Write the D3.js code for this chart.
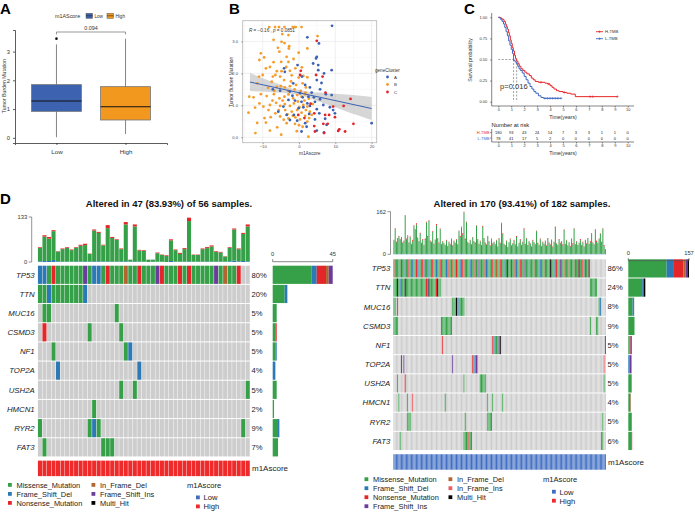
<!DOCTYPE html>
<html><head><meta charset="utf-8">
<script src="https://cdn.jsdelivr.net/npm/d3@7"></script>
<style>body{margin:0;background:#fff}svg{display:block;font-family:"Liberation Sans",Arial,Helvetica,sans-serif}</style>
</head><body>
<svg id="c" width="695" height="512"></svg>
<script>
// ================= DATA =================
// Panel A (boxplot)
const boxGroups=["Low","High"];
const boxMin=[0.02,0.13];
const boxQ1=[0.92,0.62];
const boxMedian=[1.28,1.08];
const boxQ3=[1.85,1.78];
const boxMax=[3.25,3.45];
const boxOutliers=[[3.45],[]];
const boxColors=["#3D63B0","#F2981F"];
const aPValue="0.094";
const aTicks=[0,1,2,3];

// Panel B (scatter)
const clusterNames=["A","B","C"];
const clusterColors=["#3B62B4","#F59C2B","#E52429"];
const pointsA=[[9.1,3.49],[2.3,3.13],[5.5,2.94],[4.9,2.52],[4.7,2.47],[3.9,2.31],[5.3,2.26],[9,2.1],[6.9,2],[5.3,2.1],[4.9,1.79],[-0.4,2.26],[-4.1,2.16],[-3.9,2.05],[0.8,1.9],[-1.6,1.69],[1.7,1.64],[3,1.56],[5.8,1.5],[7.4,1.35],[9,1.32],[-7.2,1.5],[-5.2,1.46],[-2.5,1.43],[0.3,1.38],[2.6,1.27],[4.1,1.25],[5.8,1.19],[-2.9,1.17],[-1.1,1.15],[0.7,1.11],[2.3,1.06],[4.4,1.11],[6.7,1.01],[-4.3,0.96],[-0.1,0.91],[1.2,0.94],[3,0.98],[4.9,0.88],[8.5,0.94],[-5.7,0.8],[-3.4,0.7],[-1.4,0.7],[2.8,0.73],[5.6,0.75],[9.4,0.85],[9.9,0.75],[-2.5,0.54],[-0.5,0.52],[1.7,0.44],[4.4,0.56],[7.2,0.58],[7.6,0.39],[2.1,0.33],[4.9,0.21],[6.9,0.15],[20,0.44],[0.7,0.18],[3.5,1.4],[1,1.25],[-1.8,1.3],[6.2,1.7]];
const pointsB=[[-8.2,3.45],[-6.6,3.45],[-5.5,3.45],[-4,3.45],[-1.7,3.45],[-1.3,3.45],[-0.9,3.45],[0.7,3.45],[-4.6,3.23],[-2.9,3.2],[-4.8,2.99],[5.1,3.17],[2.3,2.78],[-2.7,2.85],[-2.8,2.78],[-5.4,2.68],[-0.1,2.65],[-10.5,2.63],[-9.6,2.5],[-10.9,2.42],[-3.4,2.52],[-4.9,2.36],[-2.9,2.36],[-8,2.2],[-9.1,2.16],[-6.1,2.07],[-4.8,2.07],[-2.5,2.08],[-1,2.16],[0.8,2.19],[-10,1.95],[-7.2,1.9],[-5.2,1.9],[-4.1,1.79],[-2,1.94],[-0.1,1.87],[1.2,1.92],[2.3,1.88],[-11.5,1.69],[-7.5,1.74],[-6.1,1.58],[-5,1.6],[-3.9,1.56],[-2.5,1.6],[-0.8,1.64],[1,1.69],[1.9,1.56],[-13.7,1.27],[-8.9,1.29],[-6.9,1.35],[-5.4,1.22],[-4,1.27],[-2.9,1.34],[-1.6,1.22],[-0.5,1.32],[0.7,1.27],[1.7,1.35],[2.7,1.21],[-10.9,1.06],[-9.8,0.96],[-8,1.01],[-6.3,1.08],[-5.2,0.98],[-3.9,1.04],[-2.5,0.98],[-1.4,1.06],[0.1,0.94],[1.2,1.01],[2.3,0.96],[3.8,1.04],[-12.1,0.93],[-8.4,0.85],[-5.6,0.85],[-3.8,0.85],[-2,0.8],[-0.5,0.85],[0.7,0.77],[1.9,0.85],[3,0.8],[-13.9,0.77],[-7.8,0.63],[-5.2,0.65],[-2.9,0.59],[-1.7,0.67],[0.3,0.56],[1.7,0.67],[-9.1,0.46],[-6,0.31],[-3.4,0.44],[-1.1,0.42],[1,0.33],[2.3,0.49],[-12,0.13],[-4.9,0.08],[-8,0.21],[2.6,0.02],[-0.6,0.19],[-3,1.45],[-1.2,1.5],[0.5,1.45],[-6.8,1.45],[-8.5,1.55],[-10.5,1.35],[-4.5,1.15],[-7.3,1.15],[-0.3,1.12],[1.5,1.15],[-3.2,0.72],[-6.5,0.75],[-1,0.62],[2.8,0.6],[-7,2.35],[-6.5,1.95],[-3.5,2.2],[-1.5,2.45],[-11,1.9],[-9.5,0.6],[-4.2,0.55],[0,0.38],[3.5,0.7],[-2.2,1.75],[-5.8,2.8],[-7,3.05],[-4,2.95],[1.8,1.4],[-12.5,1.25],[-11.5,0.45]];
const pointsC=[[4.9,3.02],[0.5,2.08],[0.3,1.95],[4.7,1.95],[6.5,1.9],[7.3,1.4],[14.2,1.2],[12.3,0.98],[9.4,0.96],[8.3,0.7],[7.2,0.7],[9.9,0.63],[4.2,0.75],[-0.2,0.7],[6.7,0.42],[7.9,0.42],[4.2,0.35],[11.1,0.25],[10.8,0.2],[12.7,0.18],[15,0.42],[6.9,0.13],[4.4,0.18],[3.2,1.05],[1.5,0.6]];
const fitX=[-13.5,20];
const fitY=[1.73,0.9];
const bandX=[-13.5,-10,-6,-3,0,3,6,10,14,17,20];
const bandLo=[1.45,1.43,1.40,1.38,1.32,1.22,1.10,0.94,0.77,0.66,0.54];
const bandHi=[2.01,1.85,1.68,1.56,1.48,1.42,1.40,1.36,1.33,1.30,1.26];
const bXTicks=[-10,0,10,20];
const bYTicks=[0,1,2,3];

// Panel C (Kaplan-Meier)
const kmRedT=[0,0.15,0.25,0.35,0.45,0.55,0.62,0.7,0.78,0.85,0.93,1.0,1.08,1.16,1.25,1.33,1.42,1.52,1.62,1.75,1.9,2.05,2.2,2.4,2.55,2.7,2.85,3.1,3.6,3.8,4.0,4.15,4.3,4.5,4.7,5.0,5.3,5.6,5.95,9.2];
const kmRedS=[1,0.994,0.983,0.972,0.95,0.92,0.89,0.86,0.82,0.78,0.73,0.69,0.64,0.6,0.55,0.51,0.48,0.45,0.42,0.39,0.37,0.35,0.33,0.31,0.28,0.26,0.24,0.23,0.22,0.21,0.19,0.17,0.15,0.13,0.12,0.11,0.10,0.09,0.06,0.06];
const kmBlueT=[0,0.1,0.2,0.3,0.4,0.5,0.6,0.7,0.8,0.9,1.0,1.1,1.18,1.3,1.4,1.5,1.6,1.7,1.85,2.0,2.15,2.3,2.45,2.6,2.75,2.9,3.1,3.3,3.5,4.85];
const kmBlueS=[1,0.99,0.97,0.95,0.92,0.88,0.83,0.78,0.72,0.67,0.62,0.57,0.49,0.47,0.45,0.42,0.39,0.37,0.34,0.30,0.26,0.22,0.18,0.15,0.12,0.10,0.07,0.05,0.04,0.04];
const censorRedT=[3.3,3.9,5.1,7.1,7.3,9.2];
const censorBlueT=[3.6,3.8,4.0,4.2,4.4,4.6,4.85];
const medianT=[1.42,1.18];
const kmGroups=["H-TMB","L-TMB"];
const kmColors=["#E8282B","#3D68C4"];
const riskTimes=[0,1,2,3,4,5,6,7,8,9,10];
const riskHigh=[180,93,43,24,14,7,3,3,1,1,0];
const riskLow=[78,41,17,5,2,0,0,0,0,0,0];
const kmPValue="p=0.016";
const cYTicks=[0,0.25,0.5,0.75,1];

// Panel D (oncoplots)
const mutTypes=["M","F","N","D","I","J","H"];
const mutNames={M:"Missense_Mutation",F:"Frame_Shift_Del",N:"Nonsense_Mutation",D:"In_Frame_Del",I:"Frame_Shift_Ins",J:"In_Frame_Ins",H:"Multi_Hit"};
const mutColors={M:"#35A048",F:"#2B79B5",N:"#E3262A",D:"#B3652F",I:"#6A3D9A",J:"#EE5A5F",H:"#000000"};
const genes=["TP53","TTN","MUC16","CSMD3","NF1","TOP2A","USH2A","HMCN1","RYR2","FAT3"];
// left (High m1Ascore): 47 altered samples
const leftTitle="Altered in 47 (83.93%) of 56 samples.";
const leftPct=["80%","20%","5%","5%","5%","4%","5%","2%","9%","7%"];
const leftRows=[
 [[0,"FFMNMMMMMMIMFFMNMMMDMMNMMMINMMMNMNMMMMMIMDMMN"]],
 [[0,"MMFMMMMMMMF"]],
 [[1,"MM"],[17,"M"]],
 [[1,"N"],[11,"M"],[18,"M"]],
 [[3,"M"],[19,"MF"]],
 [[4,"F"],[22,"F"]],
 [[18,"M"],[21,"M"],[46,"M"]],
 [[12,"M"]],
 [[0,"M"],[11,"MFM"],[45,"M"]],
 [[1,"M"],[14,"MMM"]]
];
const leftTMB=[44,79,74,94,32,40,44,37,44,51,54,25,96,89,51,109,74,67,40,118,7,111,36,35,7,7,28,22,20,67,37,27,41,131,22,22,40,44,49,32,30,17,44,99,40,86,111];
const leftRed=[2,4,5,3,1,2,2,2,2,3,4,1,3,3,2,9,3,2,2,7,0,6,2,2,0,0,2,1,2,3,2,3,3,10,1,1,2,3,3,2,2,1,2,3,2,3,6];
const leftBlue=[2,3,3,6,2,1,1,1,2,1,2,1,2,2,1,2,1,1,2,2,1,2,1,1,0,1,1,1,0,3,1,1,1,2,1,1,1,2,1,1,1,1,2,4,2,3,2];
const leftTmbMax=133, leftBarMax=45;
// right (Low m1Ascore): 170 altered samples
const rightTitle="Altered in 170 (93.41%) of 182 samples.";
const rightPct=["86%","24%","8%","9%","5%","5%","5%","4%","5%","6%"];
const rightRows=[
 [[0,"MNMFMMNMFM"+"MFNMMFMMNM"+"FMMNMIMMFM"+"MNMMFMMNMM"+"MMFMNMMDMM"+"NMMFMNMNMM"+"MFMMNMMMIM"+"MMNMFFMMMN"+"MMDMMNMMFM"+"MHMMNMNMFM"+"MNMMIMMFMM"+"DMMNMFMFMM"+"MNMMMHMMFM"+"NMMIMMDMMN"+"MMFMMNMNHM"+"MNMIMDH"]],
 [[0,"MMMHMFMMMHMMMMMMMMMMMMMMMMNFHMMMMMNHMM"],[157,"MMMMMM"]],
 [[0,"MM"],[3,"N"],[47,"MMMHMFMMMM"],[164,"MF"]],
 [[0,"MMMM"],[38,"MMMMMMMMM"],[157,"M"],[162,"MM"]],
 [[39,"N"],[79,"NFMMMIH"],[169,"I"]],
 [[6,"I"],[8,"I"],[47,"I"],[63,"NFFIJ"],[168,"J"]],
 [[3,"M"],[9,"N"],[56,"M"],[69,"MMMMM"],[168,"M"]],
 [[4,"M"],[11,"M"],[15,"J"],[41,"M"],[75,"M"],[79,"M"],[87,"M"]],
 [[11,"MMM"],[57,"M"],[75,"MMMM"],[167,"M"]],
 [[5,"M"],[56,"MMMMNMM"],[166,"MM"]]
];
const rightTMB=[55,99,48,62,70,58,66,45,52,149,60,72,45,68,40,55,110,96,118,64,50,82,44,58,36,60,124,70,130,52,48,88,40,56,115,62,45,98,38,50,42,36,55,32,48,40,60,35,52,44,58,38,90,70,105,80,162,60,124,48,42,55,38,66,50,45,110,58,40,52,36,108,62,45,38,70,50,34,60,42,48,38,55,30,62,44,120,80,40,35,52,28,46,60,34,42,55,38,70,30,44,58,36,48,99,40,62,35,50,42,30,55,46,38,90,44,36,60,32,48,40,52,34,62,45,38,56,30,48,105,42,36,58,44,50,38,95,40,55,34,46,32,60,42,99,38,50,35,44,58,36,48,30,55,42,62,40,50,80,45,38,95,52,44,60,80,48,99,35,20];
const rightRed="2423323252"+"3423263252"+"2423273524"+"2342624232"+"2232323232"+"2324363622"+"2232262223"+"2423222242"+"2323232223"+"2313223242"+"2323542322"+"2323242323"+"2323232326"+"2232252322"+"2325232324"+"2323232432"+"2352324252";
const rightBlue="1211211213"+"1121212121"+"1211212131"+"2121121211"+"1121211212"+"1212131211"+"1211212121"+"1121121311"+"2112121121"+"1211212121"+"1121212112"+"1211212121"+"1121211213"+"1211211212"+"1121213121"+"1211212112"+"1212131211";
const rightTmbMax=162, rightBarMax=157;
const annoName="m1Ascore";
const annoLevels=["Low","High"];
const annoColors=["#3F6DC2","#EE2A2A"];

// ================= DRAW =================
const svg=d3.select("#c");
const DARK="#333";
function txt(g,x,y,s,size,opt={}){
  const t=g.append("text").attr("x",x).attr("y",y).text(s).attr("font-size",size).attr("fill",opt.fill||"#222");
  if(opt.anchor) t.attr("text-anchor",opt.anchor);
  if(opt.weight) t.attr("font-weight",opt.weight);
  if(opt.style) t.attr("font-style",opt.style);
  if(opt.rotate!==undefined) t.attr("transform",`rotate(${opt.rotate},${x},${y})`);
  return t;
}
[["A",0,14],["B",229,14],["C",464,14],["D",0,204]].forEach(d=>txt(svg,d[1],d[2],d[0],15,{weight:"bold",fill:"#000"}));

// ---------- Panel A ----------
(function(){
  const g=svg.append("g");
  const y=d3.scaleLinear().domain([-0.18,3.75]).range([143,30]);
  const x=d3.scalePoint().domain(boxGroups).range([15,167]).padding(0.6);
  const bw=50;
  const ya=g.append("g").attr("transform","translate(15,0)").call(d3.axisLeft(y).tickValues(aTicks).tickSize(2).tickFormat(d3.format("d")));
  const xa=g.append("g").attr("transform","translate(0,143)").call(d3.axisBottom(x).tickSize(2));
  [ya,xa].forEach(a=>{a.selectAll("path,line").attr("stroke",DARK).attr("stroke-width",0.8);a.selectAll("text").attr("fill","#333").attr("font-family","inherit");});
  ya.selectAll("text").attr("font-size",5.8);
  xa.selectAll("text").attr("font-size",6.2).attr("dy","0.9em");
  txt(g,5.5,86,"Tumor Burden Mutation",5.2,{anchor:"middle",rotate:-90,fill:"#333"});
  boxGroups.forEach((k,i)=>{
    const cx=x(k);
    g.append("line").attr("x1",cx).attr("x2",cx).attr("y1",y(boxMin[i])).attr("y2",y(boxMax[i])).attr("stroke","#666").attr("stroke-width",0.8);
    g.append("rect").attr("x",cx-bw/2).attr("width",bw).attr("y",y(boxQ3[i])).attr("height",y(boxQ1[i])-y(boxQ3[i])).attr("fill",boxColors[i]).attr("stroke","#777").attr("stroke-width",0.8);
    g.append("line").attr("x1",cx-bw/2).attr("x2",cx+bw/2).attr("y1",y(boxMedian[i])).attr("y2",y(boxMedian[i])).attr("stroke","#111").attr("stroke-width",1.2);
    boxOutliers[i].forEach(o=>g.append("circle").attr("cx",cx).attr("cy",y(o)).attr("r",1.3).attr("fill","#111"));
  });
  const by=y(3.68);
  g.append("path").attr("d",`M${x("Low")},${by+2.5}V${by}H${x("High")}V${by+2.5}`).attr("fill","none").attr("stroke","#555").attr("stroke-width",0.6);
  txt(g,(x("Low")+x("High"))/2,by-1.8,aPValue,5.4,{anchor:"middle",fill:"#333"});
  txt(g,55,17.5,"m1AScore",5.4,{fill:"#333"});
  boxGroups.forEach((k,i)=>{
    const lx=[86,107][i];
    g.append("rect").attr("x",lx).attr("y",13.3).attr("width",6.5).attr("height",5).attr("fill",boxColors[i]).attr("stroke","#555").attr("stroke-width",0.5);
    g.append("line").attr("x1",lx).attr("x2",lx+6.5).attr("y1",15.8).attr("y2",15.8).attr("stroke","#222").attr("stroke-width",0.6);
    txt(g,lx+8.5,17.5,k,4.6,{fill:"#333"});
  });
})();

// ---------- Panel B ----------
(function(){
  const g=svg.append("g");
  const x=d3.scaleLinear().domain([-15.5,21.4]).range([242.7,376.7]);
  const y=d3.scaleLinear().domain([-0.17,3.65]).range([142.7,20.7]);
  const [x0,x1]=x.range(),[y0,y1]=y.range();
  [-15,-5,5,15].forEach(v=>g.append("line").attr("x1",x(v)).attr("x2",x(v)).attr("y1",y0).attr("y2",y1).attr("stroke","#F2F2F2").attr("stroke-width",0.4));
  [0.5,1.5,2.5,3.5].forEach(v=>g.append("line").attr("y1",y(v)).attr("y2",y(v)).attr("x1",x0).attr("x2",x1).attr("stroke","#F2F2F2").attr("stroke-width",0.4));
  bXTicks.forEach(v=>g.append("line").attr("x1",x(v)).attr("x2",x(v)).attr("y1",y0).attr("y2",y1).attr("stroke","#E6E6E6").attr("stroke-width",0.6));
  bYTicks.forEach(v=>g.append("line").attr("y1",y(v)).attr("y2",y(v)).attr("x1",x0).attr("x2",x1).attr("stroke","#E6E6E6").attr("stroke-width",0.6));
  const band=bandX.map((v,i)=>({x:v,lo:bandLo[i],hi:bandHi[i]}));
  g.append("path").datum(band).attr("d",d3.area().x(d=>x(d.x)).y0(d=>y(d.lo)).y1(d=>y(d.hi)).curve(d3.curveMonotoneX)).attr("fill","#999").attr("opacity",0.4);
  const all=[...pointsB.map(p=>[...p,1]),...pointsA.map(p=>[...p,0]),...pointsC.map(p=>[...p,2])];
  g.selectAll("circle.pt").data(all).join("circle").attr("cx",d=>x(d[0])).attr("cy",d=>y(d[1])).attr("r",1.4).attr("fill",d=>clusterColors[d[2]]);
  g.append("line").attr("x1",x(fitX[0])).attr("x2",x(fitX[1])).attr("y1",y(fitY[0])).attr("y2",y(fitY[1])).attr("stroke","#3B62B4").attr("stroke-width",1);
  g.append("rect").attr("x",x0).attr("y",y1).attr("width",x1-x0).attr("height",y0-y1).attr("fill","none").attr("stroke","#B5B5B5").attr("stroke-width",0.8);
  const xa=g.append("g").attr("transform",`translate(0,${y0})`).call(d3.axisBottom(x).tickValues(bXTicks).tickSize(1.5).tickFormat(d=>d<0?"\u2212"+Math.abs(d):d));
  const ya=g.append("g").attr("transform",`translate(${x0},0)`).call(d3.axisLeft(y).tickValues(bYTicks).tickSize(1.5));
  [xa,ya].forEach(a=>{a.select(".domain").remove();a.selectAll("line").attr("stroke","#444").attr("stroke-width",0.5);a.selectAll("text").attr("font-size",4.2).attr("fill","#4D4D4D").attr("font-family","inherit");});
  xa.selectAll("text").attr("dy",null).attr("y",5.2);
  txt(g,(x0+x1)/2,155.2,"m1Ascore",4.8,{anchor:"middle",fill:"#333"});
  txt(g,233,82,"Tumor Burden Mutation",4.8,{anchor:"middle",rotate:-90,fill:"#333"});
  const rt=g.append("text").attr("x",249).attr("y",32).attr("font-size",4.6).attr("fill","#333");
  rt.append("tspan").attr("font-style","italic").text("R");
  rt.append("tspan").text(" = \u22120.16 , ");
  rt.append("tspan").attr("font-style","italic").text("p");
  rt.append("tspan").text(" = 0.0851");
  txt(g,375,71.5,"geneCluster",4.6,{fill:"#333"});
  clusterNames.forEach((k,i)=>{
    g.append("circle").attr("cx",387.5).attr("cy",77+i*7.5).attr("r",1.4).attr("fill",clusterColors[i]);
    txt(g,394,78.6+i*7.5,k,4.4,{fill:"#333"});
  });
})();

// ---------- Panel C ----------
(function(){
  const g=svg.append("g");
  const x=d3.scaleLinear().domain([0,10]).range([498.3,627.7]);
  const y=d3.scaleLinear().domain([0,1]).range([101.7,17.3]);
  const ax=g.append("g").attr("transform","translate(0,106)").call(d3.axisBottom(x).tickValues(riskTimes).tickSize(1.5));
  const ay=g.append("g").attr("transform","translate(491.7,0)").call(d3.axisLeft(y).tickValues(cYTicks).tickSize(1.5).tickFormat(d3.format(".2f")));
  ax.select(".domain").attr("d","M491.7,0H634");
  ay.select(".domain").attr("d","M0,13V106");
  [ax,ay].forEach(a=>{a.selectAll("path,line").attr("stroke","#333").attr("stroke-width",0.6);a.selectAll("text").attr("font-size",4).attr("fill","#333").attr("font-family","inherit");});
  ax.selectAll("text").attr("dy",null).attr("y",5);
  txt(g,563,118.8,"Time(years)",5.2,{anchor:"middle",fill:"#333"});
  txt(g,472,60,"Survival probability",5.2,{anchor:"middle",rotate:-90,fill:"#333"});
  const dash="2,1.5";
  g.append("line").attr("x1",x(0)).attr("x2",x(Math.max(...medianT))).attr("y1",y(0.5)).attr("y2",y(0.5)).attr("stroke","#444").attr("stroke-width",0.5).attr("stroke-dasharray",dash);
  medianT.forEach(t=>g.append("line").attr("x1",x(t)).attr("x2",x(t)).attr("y1",y(0.5)).attr("y2",y(0)).attr("stroke","#444").attr("stroke-width",0.5).attr("stroke-dasharray",dash));
  const line=d3.line().x(d=>x(d[0])).y(d=>y(d[1])).curve(d3.curveStepAfter);
  const curves=[kmRedT.map((t,i)=>[t,kmRedS[i]]),kmBlueT.map((t,i)=>[t,kmBlueS[i]])];
  const cens=[censorRedT,censorBlueT];
  curves.forEach((c,k)=>{
    g.append("path").datum(c).attr("d",line).attr("fill","none").attr("stroke",kmColors[k]).attr("stroke-width",1);
    cens[k].forEach(t=>{
      let s=c[0][1];c.forEach(p=>{if(p[0]<=t)s=p[1];});
      g.append("path").attr("d",`M${x(t)-1.2},${y(s)}h2.4M${x(t)},${y(s)-1.2}v2.4`).attr("stroke",kmColors[k]).attr("stroke-width",0.6);
    });
  });
  txt(g,500,88.5,kmPValue,7.6,{fill:"#333"});
  kmGroups.forEach((k,i)=>{
    const ly=31.7+i*7;
    g.append("line").attr("x1",596).attr("x2",603).attr("y1",ly).attr("y2",ly).attr("stroke",kmColors[i]).attr("stroke-width",0.9);
    g.append("path").attr("d",`M598.3,${ly}h2.4M599.5,${ly-1.2}v2.4`).attr("stroke",kmColors[i]).attr("stroke-width",0.6);
    txt(g,605,ly+1.5,k,4.2,{fill:"#333"});
  });
  txt(g,491.5,127,"Number at risk",5.8,{fill:"#222"});
  const rows=[riskHigh,riskLow];
  rows.forEach((r,i)=>{
    const ry=134+i*5.5;
    txt(g,489.5,ry,kmGroups[i],4,{anchor:"end",fill:kmColors[i]});
    r.forEach((v,j)=>txt(g,x(riskTimes[j]),ry,String(v),4,{anchor:"middle",fill:"#222"}));
    g.append("line").attr("x1",490).attr("x2",491.7).attr("y1",ry-1.4).attr("y2",ry-1.4).attr("stroke","#333").attr("stroke-width",0.5);
  });
  const rx=g.append("g").attr("transform","translate(0,142)").call(d3.axisBottom(x).tickValues(riskTimes).tickSize(1.5));
  rx.select(".domain").attr("d","M491.7,0H634");
  rx.selectAll("path,line").attr("stroke","#333").attr("stroke-width",0.6);
  rx.selectAll("text").attr("font-size",4).attr("fill","#333").attr("font-family","inherit").attr("dy",null).attr("y",5);
  g.append("line").attr("x1",491.7).attr("x2",491.7).attr("y1",129).attr("y2",142).attr("stroke","#333").attr("stroke-width",0.6);
  txt(g,563,155,"Time(years)",5.2,{anchor:"middle",fill:"#333"});
})();

// ---------- Panel D ----------
function oncoplot(cfg){
  const g=svg.append("g");
  const nCol=cfg.tmb.length;
  const x=d3.scaleBand().domain(d3.range(nCol)).range([cfg.gx0,cfg.gx1]);
  const cw=x.bandwidth();
  const gap=Math.min(0.45,cw*0.2);
  const rowY=i=>cfg.rowTop+i*19.17, rh=18.2;
  txt(g,cfg.titleX,cfg.titleY,cfg.title,9.5,{anchor:"middle",weight:"bold",fill:"#111"});
  const yt=d3.scaleLinear().domain([0,cfg.tmbMax]).range([cfg.tmbBase,cfg.tmbTop]);
  cfg.tmb.forEach((v,i)=>{
    const r=cfg.red(i),b=cfg.blue(i);
    const segs=[[0,b,mutColors.F],[b,v-r,mutColors.M],[v-r,v,mutColors.N]];
    segs.forEach(s=>{ if(s[1]>s[0]) g.append("rect").attr("x",x(i)+gap/2).attr("width",cw-gap).attr("y",yt(s[1])).attr("height",yt(s[0])-yt(s[1])).attr("fill",s[2]);});
  });
  g.append("path").attr("d",`M${cfg.axX-3},${cfg.tmbTop}H${cfg.axX}V${cfg.tmbBase}H${cfg.axX-3}`).attr("fill","none").attr("stroke","#666").attr("stroke-width",0.7);
  txt(g,cfg.axX-4.5,cfg.tmbTop+2,String(cfg.tmbMax),5.8,{anchor:"end",fill:"#333"});
  txt(g,cfg.axX-4.5,cfg.tmbBase+2,"0",5.8,{anchor:"end",fill:"#333"});
  const xb=d3.scaleLinear().domain([0,cfg.barMax]).range([cfg.bx0,cfg.bx1]);
  genes.forEach((gn,r)=>{
    const map={};
    cfg.rows[r].forEach(([s,str])=>{[...str].forEach((c,k)=>{if(c!==".")map[s+k]=c;});});
    for(let i=0;i<nCol;i++){
      const c=map[i];
      g.append("rect").attr("x",x(i)+gap/2).attr("width",cw-gap).attr("y",rowY(r)).attr("height",rh).attr("fill",c?mutColors[c]:"#CDCDCD");
    }
    txt(g,cfg.gx0-3,rowY(r)+rh/2+2.8,gn,7.8,{anchor:"end",style:"italic",fill:"#222"});
    txt(g,cfg.gx1+1.5,rowY(r)+rh/2+2.7,cfg.pct[r],7.6,{fill:"#222"});
    const cnt={};Object.values(map).forEach(c=>cnt[c]=(cnt[c]||0)+1);
    let acc=0;
    mutTypes.forEach(t=>{ if(cnt[t]){ g.append("rect").attr("x",xb(acc)).attr("width",xb(acc+cnt[t])-xb(acc)).attr("y",rowY(r)).attr("height",rh).attr("fill",mutColors[t]); acc+=cnt[t]; }});
  });
  g.append("path").attr("d",`M${cfg.bx0},${cfg.baxY-2.5}V${cfg.baxY}H${cfg.bx1}V${cfg.baxY-2.5}`).attr("fill","none").attr("stroke","#555").attr("stroke-width",0.7);
  txt(g,xb(0),cfg.baxY-5.5,"0",5.8,{anchor:"middle",fill:"#333"});
  txt(g,xb(cfg.barMax),cfg.baxY-5.5,String(cfg.barMax),5.8,{anchor:"middle",fill:"#333"});
  const ay=rowY(genes.length-1)+rh+cfg.annoGap;
  for(let i=0;i<nCol;i++) g.append("rect").attr("x",x(i)+gap/2).attr("width",cw-gap).attr("y",ay).attr("height",15.5).attr("fill",cfg.annoColor);
  txt(g,cfg.gx1+2,ay+10.3,annoName,8,{fill:"#222"});
  const L=cfg.legend;
  L.cols.forEach((col,ci)=>col.forEach((t,ri)=>{
    const lx=L.x[ci], ly=L.y+ri*9;
    g.append("rect").attr("x",lx).attr("y",ly-2).attr("width",3.8).attr("height",3.8).attr("fill",mutColors[t]);
    txt(g,lx+8.5,ly+2.7,mutNames[t],7.4,{fill:"#222"});
  }));
  txt(g,L.ax,L.y+2.5,annoName,7.6,{fill:"#222"});
  annoLevels.forEach((lv,i)=>{
    const ly=L.y+12.5+i*9;
    g.append("rect").attr("x",L.ax+9).attr("y",ly-2).attr("width",3.8).attr("height",3.8).attr("fill",annoColors[i]);
    txt(g,L.ax+16.5,ly+2.7,lv,7.6,{fill:"#222"});
  });
}
oncoplot({title:leftTitle,titleX:169,titleY:207,tmb:leftTMB,red:i=>leftRed[i],blue:i=>leftBlue[i],tmbMax:leftTmbMax,tmbTop:217,tmbBase:262,axX:31.7,
  gx0:37.7,gx1:250,rowTop:265.7,rows:leftRows,pct:leftPct,bx0:272.7,bx1:332.7,barMax:leftBarMax,baxY:261.7,annoGap:4.2,annoColor:annoColors[1],
  legend:{x:[8,91.5],y:485,cols:[["M","F","N"],["D","I","H"]],ax:187}});
oncoplot({title:rightTitle,titleX:522,titleY:207,tmb:rightTMB,red:i=>+rightRed[i],blue:i=>+rightBlue[i],tmbMax:rightTmbMax,tmbTop:211.7,tmbBase:254.3,axX:390.5,
  gx0:393.3,gx1:606,rowTop:259.3,rows:rightRows,pct:rightPct,bx0:628.3,bx1:689,barMax:rightBarMax,baxY:260.7,annoGap:4.2,annoColor:annoColors[0],
  legend:{x:[364.5,448.5],y:479.3,cols:[["M","F","N","I"],["D","J","H"]],ax:543}});
</script>
</body></html>
